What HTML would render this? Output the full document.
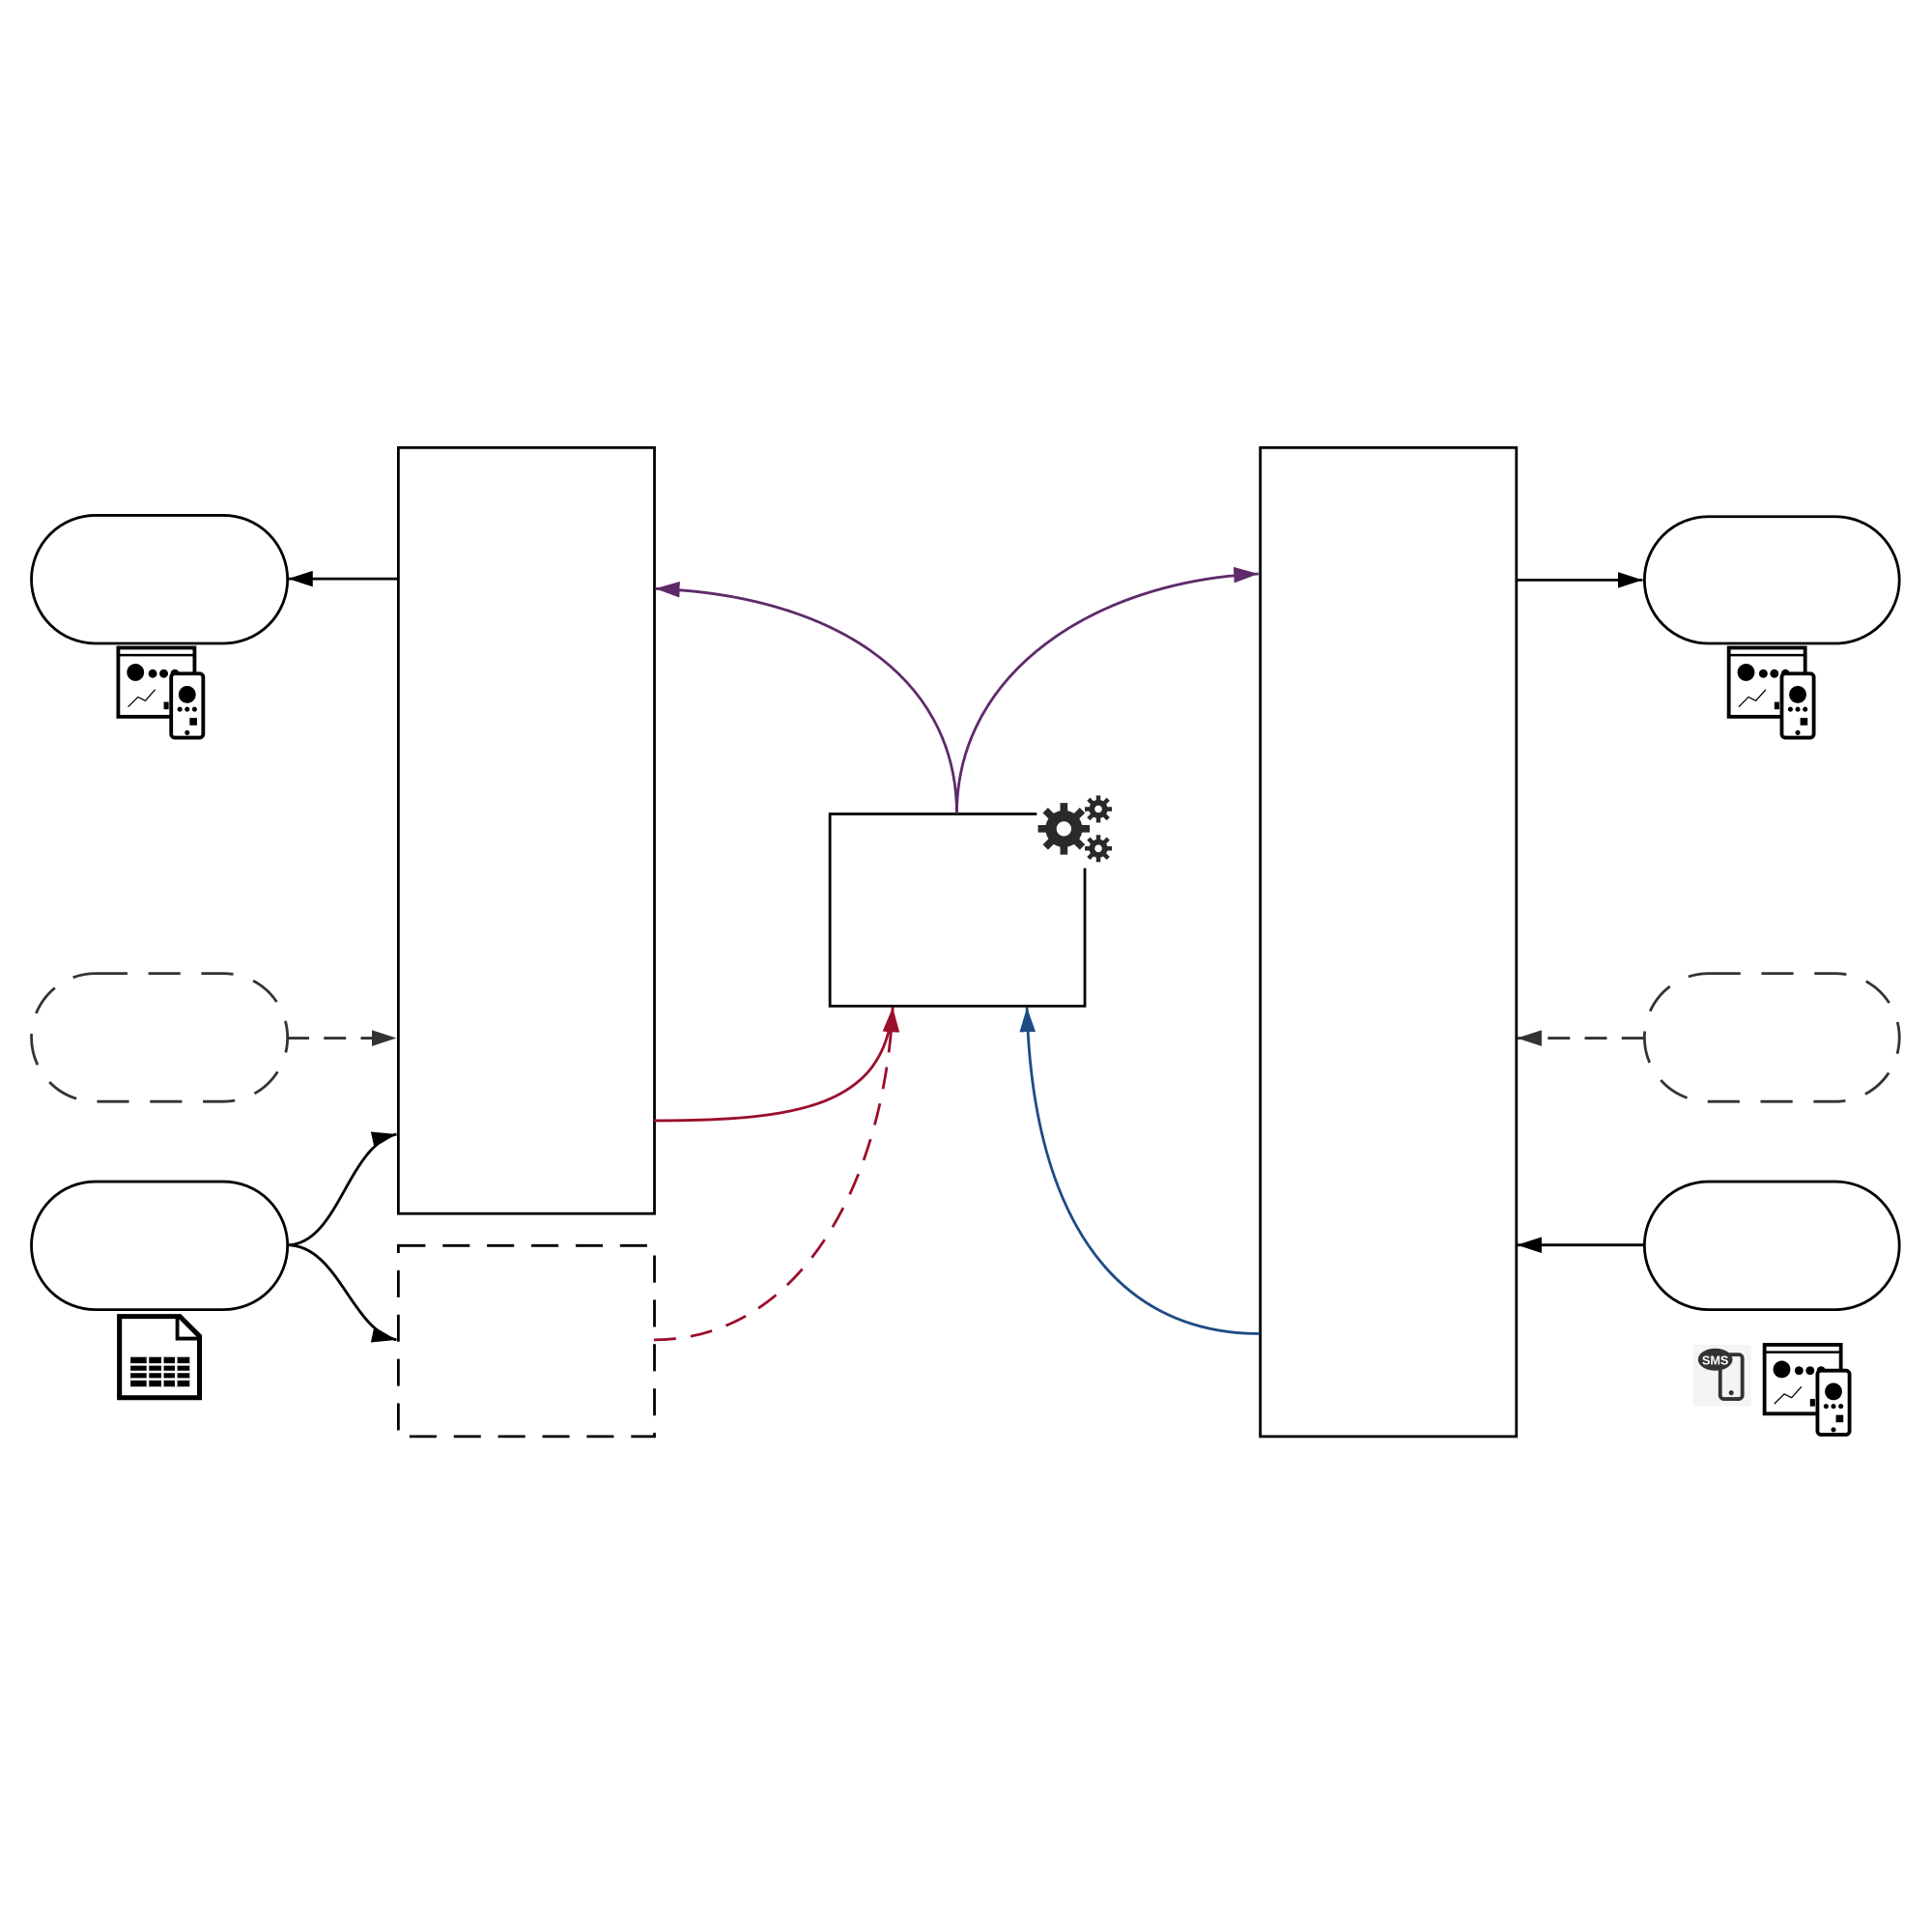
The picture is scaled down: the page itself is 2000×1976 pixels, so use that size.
<!DOCTYPE html>
<html><head><meta charset="utf-8"><style>
html,body{margin:0;padding:0;background:#fff;}
svg{display:block;}
</style></head><body>
<svg width="2000" height="1976" viewBox="0 0 1569 1550.2" xmlns="http://www.w3.org/2000/svg">
<defs>
<marker id="ag" viewBox="0 0 10 10" refX="10" refY="5" markerWidth="20" markerHeight="13" markerUnits="userSpaceOnUse" orient="auto" preserveAspectRatio="none"><path d="M0,0L10,5L0,10z" fill="#333"/></marker>
<marker id="ak" viewBox="0 0 10 10" refX="10" refY="5" markerWidth="20" markerHeight="13" markerUnits="userSpaceOnUse" orient="auto" preserveAspectRatio="none"><path d="M0,0L10,5L0,10z" fill="#000"/></marker>
<marker id="ap" viewBox="0 0 10 10" refX="10" refY="5" markerWidth="20" markerHeight="13" markerUnits="userSpaceOnUse" orient="auto" preserveAspectRatio="none"><path d="M0,0L10,5L0,10z" fill="#5e2a6a"/></marker>
<marker id="ar" viewBox="0 0 10 10" refX="10" refY="5" markerWidth="20" markerHeight="13" markerUnits="userSpaceOnUse" orient="auto" preserveAspectRatio="none"><path d="M0,0L10,5L0,10z" fill="#9b0e2c"/></marker>
<marker id="abl" viewBox="0 0 10 10" refX="10" refY="5" markerWidth="20" markerHeight="13" markerUnits="userSpaceOnUse" orient="auto" preserveAspectRatio="none"><path d="M0,0L10,5L0,10z" fill="#1d4b84"/></marker>
<g id="dash">
<rect x="0" y="0" width="62" height="56" fill="#fff" stroke="#000" stroke-width="3"/>
<line x1="0" y1="6" x2="62" y2="6" stroke="#000" stroke-width="2"/>
<circle cx="14" cy="20" r="7" fill="#000"/>
<circle cx="28" cy="21" r="3.5" fill="#000"/><circle cx="37" cy="21" r="3.5" fill="#000"/><circle cx="46" cy="21" r="3.5" fill="#000"/>
<polyline points="8,48 16,40 22,43 30,34" fill="none" stroke="#000" stroke-width="1"/>
<rect x="37" y="44" width="4" height="6" fill="#000"/>
<rect x="43" y="21" width="26" height="52" rx="3" fill="#fff" stroke="#000" stroke-width="3"/>
<circle cx="56" cy="38" r="7" fill="#000"/>
<circle cx="50" cy="50" r="2" fill="#000"/><circle cx="56" cy="50" r="2" fill="#000"/><circle cx="62" cy="50" r="2" fill="#000"/>
<rect x="58" y="57" width="6" height="6" fill="#000"/>
<circle cx="56" cy="69" r="2" fill="#000"/>
</g>
</defs>
<rect x="323.5" y="363.5" width="208" height="622" fill="#fff" stroke="#000" stroke-width="2.2"/>
<rect x="323.5" y="1011.5" width="208" height="155" fill="#fff" stroke="#000" stroke-width="2.2" stroke-dasharray="22,14"/>
<rect x="1023.5" y="363.5" width="208" height="803" fill="#fff" stroke="#000" stroke-width="2.2"/>
<path d="M842,661 L674,661 L674,817 L881,817 L881,705" fill="none" stroke="#000" stroke-width="2.2"/>
<g fill="#2a2a2a">
<circle cx="864" cy="673" r="15"/>
<g stroke="#2a2a2a" stroke-width="6">
<line x1="864" y1="652" x2="864" y2="694"/><line x1="843" y1="673" x2="885" y2="673"/>
<line x1="849" y1="658" x2="879" y2="688"/><line x1="879" y1="658" x2="849" y2="688"/>
</g>
<circle cx="864" cy="673" r="6" fill="#fff"/>
<circle cx="892" cy="657" r="7.5"/><circle cx="892" cy="689" r="7.5"/>
<g stroke="#2a2a2a" stroke-width="3.5">
<line x1="892" y1="646" x2="892" y2="668"/><line x1="881" y1="657" x2="903" y2="657"/>
<line x1="884" y1="649" x2="900" y2="665"/><line x1="900" y1="649" x2="884" y2="665"/>
<line x1="892" y1="678" x2="892" y2="700"/><line x1="881" y1="689" x2="903" y2="689"/>
<line x1="884" y1="681" x2="900" y2="697"/><line x1="900" y1="681" x2="884" y2="697"/>
</g>
<circle cx="892" cy="657" r="3" fill="#fff"/><circle cx="892" cy="689" r="3" fill="#fff"/>
</g>
<g fill="#fff" stroke="#000" stroke-width="2.2">
<rect x="25.5" y="418.5" width="208" height="104" rx="52"/>
<rect x="25.5" y="959.5" width="208" height="104" rx="52"/>
<rect x="1335.5" y="419.5" width="207" height="103" rx="52"/>
<rect x="1335.5" y="959.5" width="207" height="104" rx="52"/>
</g>
<g fill="#fff" stroke="#333" stroke-width="2.2" stroke-dasharray="26,17">
<rect x="25.5" y="790.5" width="208" height="104" rx="52"/>
<rect x="1335.5" y="790.5" width="207" height="104" rx="52"/>
</g>
<g fill="none" stroke-width="2.2">
<line x1="323" y1="470" x2="234" y2="470" stroke="#000" marker-end="url(#ak)"/>
<line x1="233" y1="843" x2="322" y2="843" stroke="#333" stroke-dasharray="18,12" marker-end="url(#ag)"/>
<path d="M233,1011 C275,1011 282,930 322,921" stroke="#000" marker-end="url(#ak)"/>
<path d="M233,1011 C275,1011 285,1080 322,1088" stroke="#000" marker-end="url(#ak)"/>
<line x1="1231" y1="471" x2="1334" y2="471" stroke="#000" marker-end="url(#ak)"/>
<line x1="1335" y1="843" x2="1232" y2="843" stroke="#333" stroke-dasharray="18,12" marker-end="url(#ag)"/>
<line x1="1335" y1="1011" x2="1232" y2="1011" stroke="#000" marker-end="url(#ak)"/>
<path d="M777,661 C777,545 670,483 532,478" stroke="#5e2a6a" marker-end="url(#ap)"/>
<path d="M777,661 C777,545 890,472 1022,466" stroke="#5e2a6a" marker-end="url(#ap)"/>
<path d="M531,910 C650,910 718,898 725,818" stroke="#9b0e2c" marker-end="url(#ar)"/>
<path d="M531,1088 C650,1088 718,960 725,818" stroke="#9b0e2c" stroke-dasharray="18,12" marker-end="url(#ar)"/>
<path d="M1023,1083 C900,1083 838,980 834,818" stroke="#1d4b84" marker-end="url(#abl)"/>
</g>
<use href="#dash" x="96" y="526"/>
<use href="#dash" x="1404" y="526"/>
<use href="#dash" x="1433" y="1092"/>
<g>
<path d="M97,1069 L146,1069 L162,1085 L162,1135 L97,1135 Z" fill="#fff" stroke="#000" stroke-width="4"/>
<path d="M144,1069 L144,1087 L162,1087" fill="none" stroke="#000" stroke-width="3"/>
<rect x="106" y="1102" width="48" height="24" fill="#000"/>
<g stroke="#fff" stroke-width="2">
<line x1="106" y1="1108" x2="154" y2="1108"/><line x1="106" y1="1114" x2="154" y2="1114"/><line x1="106" y1="1120" x2="154" y2="1120"/>
<line x1="120" y1="1102" x2="120" y2="1126"/><line x1="132" y1="1102" x2="132" y2="1126"/><line x1="143" y1="1102" x2="143" y2="1126"/>
</g>
</g>
<g>
<rect x="1375" y="1092" width="47" height="50" fill="#f4f4f4"/>
<rect x="1397" y="1100" width="18" height="36" rx="3" fill="none" stroke="#333" stroke-width="3"/>
<circle cx="1406" cy="1131" r="2" fill="#333"/>
<ellipse cx="1393" cy="1104" rx="14" ry="9" fill="#333"/>
<text x="1393" y="1108" font-family="Liberation Sans, sans-serif" font-size="10" font-weight="bold" fill="#fff" text-anchor="middle">SMS</text>
</g>
</svg>
</body></html>
